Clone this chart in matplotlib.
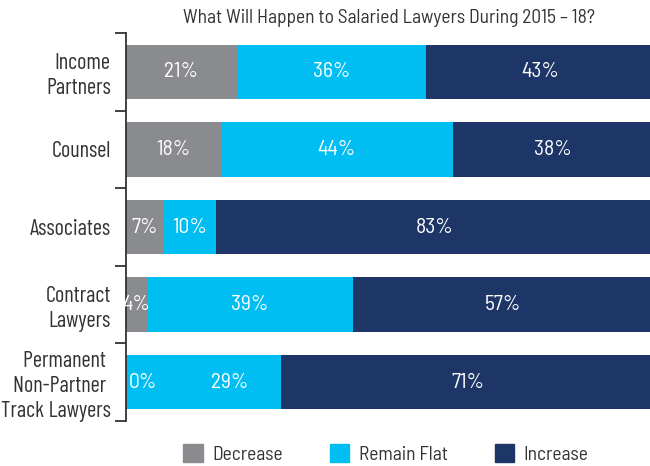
import numpy as np
import matplotlib
matplotlib.use('Agg')
import matplotlib.pyplot as plt
from matplotlib.patches import Patch

plt.rcParams['font.family'] = ['Barlow Semi Condensed', 'DejaVu Sans']

categories = ['Income\nPartners', 'Counsel', 'Associates', 'Contract\nLawyers',
              'Permanent \nNon-Partner \nTrack Lawyers']
decrease = [21, 18, 7, 4, 0.4]
remain_flat = [36, 44, 10, 39, 29]
increase = [43, 38, 83, 57, 71]
series_names = ['Decrease', 'Remain Flat', 'Increase']
colors = ['#8a8b8f', '#00bdf2', '#1e3667']

fig = plt.figure(figsize=(6.5, 4.66), dpi=100)
ax = fig.add_axes([126 / 650, 45 / 466, 1 - 126 / 650, 388 / 466])

pct_font = dict(family=['Barlow Semi Condensed', 'DejaVu Sans'], weight='normal',
                fontsize=15.5, color='white', va='center')

y = np.arange(len(categories))
left = np.zeros(len(categories))
for vals, name, c in zip([decrease, remain_flat, increase], series_names, colors):
    vals = np.array(vals, dtype=float)
    ax.barh(y, vals, left=left, height=0.7, color=c, label=name)
    for i, v in enumerate(vals):
        if v < 2:
            # tiny slice: label sits just after it
            ax.text(left[i] + v + 0.1, y[i], '{:.0f}%'.format(v), ha='left', **pct_font)
        else:
            xc = left[i] + v / 2
            if name == 'Remain Flat' and decrease[i] < 2:
                xc += 4.8
            ax.text(xc, y[i], '{:.0f}%'.format(v), ha='center', **pct_font)
    left += vals

ax.set_xlim(0, 99.4)
ax.set_ylim(len(categories) - 0.5, -0.5)
ax.set_xticks([])
ax.set_yticks(y)
ax.set_yticklabels(categories, fontsize=16, color='#333333', linespacing=1.25,
                   family=['Barlow Condensed', 'DejaVu Sans'])
ax.tick_params(axis='y', which='major', length=0, pad=11)
ax.set_yticks(np.arange(-0.5, len(categories)), minor=True)
ax.tick_params(axis='y', which='minor', length=8, width=1.3, color='#333333')
for s in ['top', 'right', 'bottom']:
    ax.spines[s].set_visible(False)
ax.spines['left'].set_color('#333333')
ax.spines['left'].set_linewidth(1.3)

fig.text(389 / 650, 1 - 18 / 466, 'What Will Happen to Salaried Lawyers During 2015 \u2013 18?',
         ha='center', va='center', fontsize=14, color='#333333')

handles = [Patch(color=c, label=n) for c, n in zip(colors, series_names)]
fig.legend(handles=handles, loc='center', bbox_to_anchor=(386 / 650, 1 - 454 / 466), ncol=3,
           frameon=False, fontsize=14, handlelength=1.0, handleheight=1.0,
           columnspacing=2.4, handletextpad=0.5, labelcolor='#333333')

fig.savefig('out.png', dpi=100)
